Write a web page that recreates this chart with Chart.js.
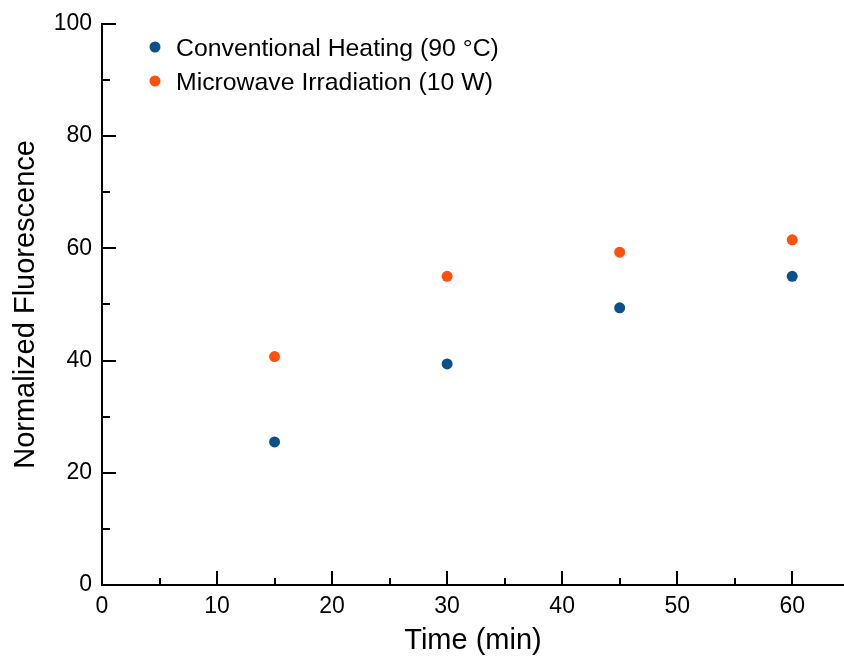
<!DOCTYPE html>
<html>
<head>
<meta charset="utf-8">
<script src="https://cdn.jsdelivr.net/npm/chart.js@4/dist/chart.umd.min.js"></script>
<style>
  html, body { margin: 0; padding: 0; background: #ffffff; }
  #wrap { width: 844px; height: 659px; }
</style>
</head>
<body>
<div id="wrap"><canvas id="chart" width="844" height="659"></canvas></div>
<script>
// Fluorescence over time for the two heating methods
const timeMin = [15, 30, 45, 60];
const conventional = [25.5, 39.4, 49.4, 55.0];
const microwave = [40.7, 55.0, 59.3, 61.5];
const seriesLabels = ['Conventional Heating (90 °C)', 'Microwave Irradiation (10 W)'];
const seriesColors = ['#0b4f8b', '#ff5010'];

const xMajorTicks = [0, 10, 20, 30, 40, 50, 60];
const xMinorTicks = [5, 15, 25, 35, 45, 55];
const yMajorTicks = [0, 20, 40, 60, 80, 100];
const yMinorTicks = [10, 30, 50, 70, 90];

const FONT = "'Liberation Sans', Arial, Helvetica, sans-serif";

const toPoints = (xs, ys) => xs.map((x, i) => ({ x: x, y: ys[i] }));

// Chart.js draws tick marks outside the axis; these go inward instead
const innerTicks = {
    id: 'innerTicks',
    afterDraw(chart) {
        const { ctx, chartArea, scales } = chart;
        ctx.save();
        ctx.strokeStyle = '#000000';
        ctx.lineWidth = 2;
        const tickX = (vals, len) => vals.forEach(v => {
            const px = Math.round(scales.x.getPixelForValue(v));
            ctx.beginPath();
            ctx.moveTo(px, chartArea.bottom);
            ctx.lineTo(px, chartArea.bottom - len);
            ctx.stroke();
        });
        const tickY = (vals, len) => vals.forEach(v => {
            const py = Math.round(scales.y.getPixelForValue(v));
            ctx.beginPath();
            ctx.moveTo(chartArea.left, py);
            ctx.lineTo(chartArea.left + len, py);
            ctx.stroke();
        });
        tickX(xMajorTicks, 14);
        tickX(xMinorTicks, 7);
        tickY(yMajorTicks, 14);
        tickY(yMinorTicks, 8);
        ctx.restore();
    }
};

// legend sits inside the plot, top left
const insideLegend = {
    id: 'insideLegend',
    afterDraw(chart) {
        const { ctx } = chart;
        ctx.save();
        ctx.font = '24.8px ' + FONT;
        ctx.textBaseline = 'alphabetic';
        ctx.textAlign = 'left';
        chart.data.datasets.forEach((ds, i) => {
            const cy = 47 + i * 34;
            ctx.fillStyle = ds.backgroundColor;
            ctx.beginPath();
            ctx.arc(155, cy, 5.5, 0, Math.PI * 2);
            ctx.fill();
            ctx.fillStyle = '#000000';
            ctx.fillText(ds.label, 176, cy + 9);
        });
        ctx.restore();
    }
};

const ctx = document.getElementById('chart').getContext('2d');
new Chart(ctx, {
    type: 'scatter',
    data: {
        datasets: [
            {
                label: seriesLabels[0],
                data: toPoints(timeMin, conventional),
                backgroundColor: seriesColors[0],
                borderColor: seriesColors[0],
                borderWidth: 0,
                pointRadius: 5.5,
                pointHoverRadius: 5.5
            },
            {
                label: seriesLabels[1],
                data: toPoints(timeMin, microwave),
                backgroundColor: seriesColors[1],
                borderColor: seriesColors[1],
                borderWidth: 0,
                pointRadius: 5.5,
                pointHoverRadius: 5.5
            }
        ]
    },
    options: {
        responsive: false,
        animation: false,
        layout: {
            autoPadding: false,
            padding: { top: 23, right: 0, bottom: 0, left: 0 }
        },
        plugins: {
            legend: { display: false },
            tooltip: { enabled: false }
        },
        scales: {
            x: {
                type: 'linear',
                min: 0,
                max: 64.5,
                afterFit: (scale) => {
                    scale.height = 74;
                    scale.paddingRight = 0;
                },
                grid: { display: false, drawTicks: false },
                border: { display: true, color: '#000000', width: 2 },
                ticks: {
                    stepSize: 10,
                    includeBounds: false,
                    padding: 8,
                    color: '#000000',
                    font: { family: FONT, size: 23 }
                },
                title: {
                    display: true,
                    text: 'Time (min)',
                    color: '#000000',
                    font: { family: FONT, size: 29 },
                    padding: { top: 0, bottom: 1 }
                }
            },
            y: {
                type: 'linear',
                min: 0,
                max: 100,
                afterFit: (scale) => { scale.width = 102; },
                grid: { display: false, drawTicks: false },
                border: { display: true, color: '#000000', width: 2 },
                ticks: {
                    stepSize: 20,
                    padding: 10,
                    color: '#000000',
                    font: { family: FONT, size: 23 }
                },
                title: {
                    display: true,
                    text: 'Normalized Fluorescence',
                    color: '#000000',
                    font: { family: FONT, size: 29 },
                    padding: { top: 9, bottom: 0 }
                }
            }
        }
    },
    plugins: [innerTicks, insideLegend]
});
</script>
</body>
</html>
